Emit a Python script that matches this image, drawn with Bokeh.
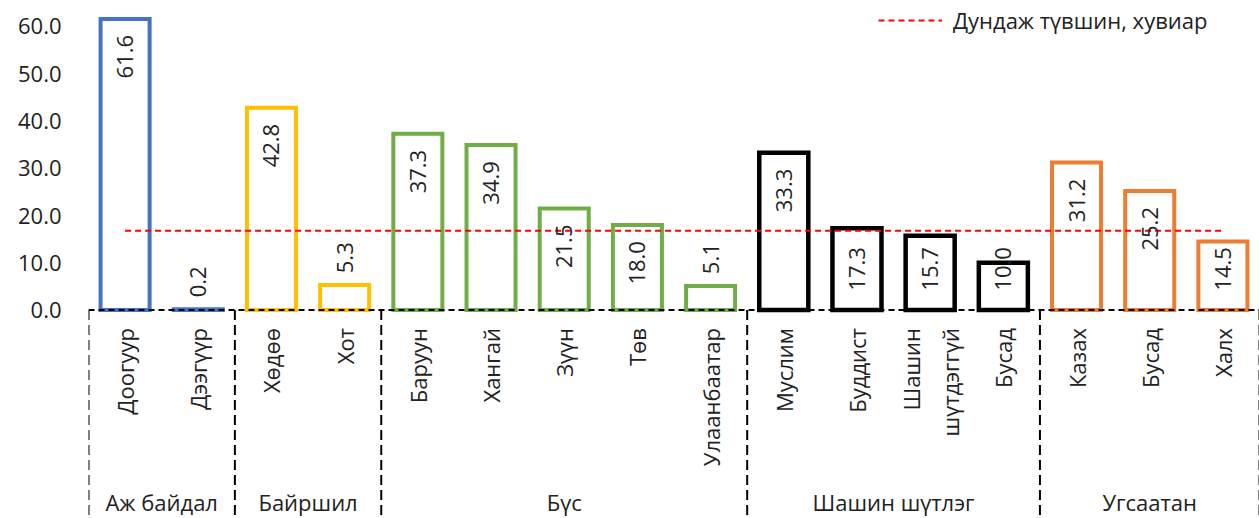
import numpy as np
from bokeh.plotting import figure
from bokeh.models import (Range1d, FixedTicker, PrintfTickFormatter, ColumnDataSource,
                          Legend, LegendItem, Span)
from bokeh.core.properties import value, field
from bokeh.embed import file_html
from bokeh.resources import INLINE

# ---------------- data ----------------
groups = ["Аж байдал", "Байршил", "Бүс", "Шашин шүтлэг", "Угсаатан"]
group_sizes = [2, 2, 5, 4, 3]
group_colors = ["#4472C4", "#FFC000", "#70AD47", "#000000", "#ED7D31"]
categories = ["Доогуур", "Дээгүүр", "Хөдөө", "Хот", "Баруун", "Хангай", "Зүүн", "Төв",
              "Улаанбаатар", "Муслим", "Буддист", "Шашин\nшүтдэггүй", "Бусад",
              "Казах", "Бусад", "Халх"]
values = [61.6, 0.2, 42.8, 5.3, 37.3, 34.9, 21.5, 18.0, 5.1, 33.3, 17.3, 15.7, 10.0,
          31.2, 25.2, 14.5]
average = 16.8
legend_label = "Дундаж түвшин, хувиар"
y_ticks = [0, 10, 20, 30, 40, 50, 60]

FONT = "Open Sans"
TXT = "#222222"
FS = "22px"
Y0, Y1 = -44.1, 65.5

n = len(categories)
x = np.arange(n)
colors = []
widths = []
for g, s in enumerate(group_sizes):
    colors += [group_colors[g]] * s
    widths += [4.5 if group_colors[g] == "#000000" else 4.0] * s

# value-label placement (Excel-like inside end / outside end)
lab_y, lab_align = [], []
for v in values:
    if v >= 18:
        lab_y.append(v - 3.4); lab_align.append("right")
    elif v >= 9:
        lab_y.append(4.1); lab_align.append("left")
    else:
        lab_y.append(v + 2.5); lab_align.append("left")

src = ColumnDataSource(dict(x=x, top=values, color=colors, lw=widths,
                            lab=[f"{v:.1f}" for v in values], lab_y=lab_y,
                            lab_align=lab_align, cat=categories))

p = figure(width=1259, height=518, output_backend="svg", toolbar_location=None,
           x_range=Range1d(-0.5, n - 0.5), y_range=Range1d(Y0, Y1),
           x_axis_location=None, min_border_left=88, min_border_right=0,
           min_border_top=0, min_border_bottom=0)
p.outline_line_color = None
p.xgrid.visible = False
p.ygrid.visible = False

ax = p.yaxis[0]
ax.ticker = FixedTicker(ticks=y_ticks)
ax.formatter = PrintfTickFormatter(format="%.1f")
ax.axis_line_color = None
ax.major_tick_line_color = None
ax.minor_tick_line_color = None
ax.major_tick_out = 0
ax.major_label_standoff = 27
ax.major_label_text_font = FONT
ax.major_label_text_font_size = FS
ax.major_label_text_color = TXT

# bars
p.vbar(x="x", top="top", bottom=0, width=0.67, source=src, fill_color="white",
       line_color="color", line_width="lw", line_join="miter")

# zero axis dashed
p.add_layout(Span(location=0, dimension="width", line_color="black",
                  line_dash="6 4", line_width=2))

# group separators
bounds = np.concatenate([[0], np.cumsum(group_sizes)]) - 0.5
p.segment(x0=bounds, y0=0, x1=bounds, y1=Y0, line_color="black",
          line_dash="10 5", line_width=2)

# average line
avg_r = p.line(x=[x[0], x[-1]], y=[average, average], line_color="#FF0000",
               line_dash="6 4", line_width=2)

# value labels
p.text(x="x", y="lab_y", text="lab", source=src, angle=np.pi / 2,
       text_align=field("lab_align"), text_baseline="middle",
       text_font=value(FONT), text_font_size=FS, text_color=TXT)

# category labels
p.text(x="x", y=-3.8, text="cat", source=src, angle=np.pi / 2,
       text_align="right", text_baseline="middle", text_line_height=1.3,
       text_font=value(FONT), text_font_size=FS, text_color=TXT)

# group labels
centers = (bounds[:-1] + bounds[1:]) / 2
p.text(x=centers, y=-40.6, text=groups, text_align="center", text_baseline="middle",
       text_font=value(FONT), text_font_size=FS, text_color=TXT)

legend = Legend(items=[LegendItem(label=legend_label, renderers=[avg_r])],
                location=(790, 483))
legend.glyph_width = 64
legend.glyph_height = 20
legend.label_standoff = 11
legend.label_text_font = FONT
legend.label_text_font_size = FS
legend.label_text_color = TXT
legend.padding = 0
legend.margin = 0
legend.border_line_color = None
legend.background_fill_alpha = 0
p.add_layout(legend)

open("out.html", "w").write(file_html(p, INLINE))
